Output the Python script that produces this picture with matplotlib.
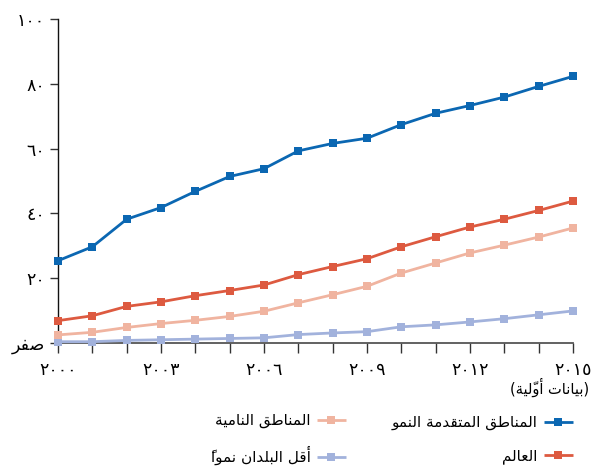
import matplotlib
matplotlib.use("Agg")
import matplotlib.pyplot as plt

plt.rcParams['font.family'] = ['DejaVu Sans']

# ---- data -------------------------------------------------------------
years = [2000, 2001, 2002, 2003, 2004, 2005, 2006, 2007,
         2008, 2009, 2010, 2011, 2012, 2013, 2014, 2015]
developed = [25.4, 29.7, 38.2, 41.8, 46.8, 51.4, 53.8, 59.3,
             61.6, 63.2, 67.4, 70.9, 73.3, 75.9, 79.2, 82.3]
world = [6.9, 8.4, 11.3, 12.7, 14.6, 16.2, 17.9, 21.1,
         23.6, 26.0, 29.7, 32.8, 35.8, 38.2, 40.9, 43.8]
developing = [2.5, 3.3, 4.8, 6.0, 7.0, 8.2, 9.8, 12.4,
              14.9, 17.5, 21.6, 24.7, 27.8, 30.2, 32.7, 35.5]
least_developed = [0.4, 0.4, 0.8, 1.0, 1.2, 1.4, 1.6, 2.6,
                   3.1, 3.5, 5.0, 5.6, 6.5, 7.5, 8.7, 9.9]

series_names = ["المناطق المتقدمة النمو", "العالم",
                "المناطق النامية", "أقل البلدان نمواً"]
y_ticks = [0, 20, 40, 60, 80, 100]
y_tick_labels = ["صفر", "٢٠", "٤٠", "٦٠", "٨٠", "١٠٠"]
x_labelled = [2000, 2003, 2006, 2009, 2012, 2015]
x_tick_labels = ["٢٠٠٠", "٢٠٠٣", "٢٠٠٦", "٢٠٠٩", "٢٠١٢", "٢٠١٥"]
note = "بيانات أوّلية"

# ---- minimal Arabic shaping (presentation forms + visual order) -------
FORMS = {  # isolated, final, initial, medial
    '\u0627': ('\ufe8d', '\ufe8e', None, None),
    '\u0623': ('\ufe83', '\ufe84', None, None),
    '\u0628': ('\ufe8f', '\ufe90', '\ufe91', '\ufe92'),
    '\u0629': ('\ufe93', '\ufe94', None, None),
    '\u062a': ('\ufe95', '\ufe96', '\ufe97', '\ufe98'),
    '\u062f': ('\ufea9', '\ufeaa', None, None),
    '\u0631': ('\ufead', '\ufeae', None, None),
    '\u0635': ('\ufeb9', '\ufeba', '\ufebb', '\ufebc'),
    '\u0637': ('\ufec1', '\ufec2', '\ufec3', '\ufec4'),
    '\u0639': ('\ufec9', '\ufeca', '\ufecb', '\ufecc'),
    '\u0641': ('\ufed1', '\ufed2', '\ufed3', '\ufed4'),
    '\u0642': ('\ufed5', '\ufed6', '\ufed7', '\ufed8'),
    '\u0644': ('\ufedd', '\ufede', '\ufedf', '\ufee0'),
    '\u0645': ('\ufee1', '\ufee2', '\ufee3', '\ufee4'),
    '\u0646': ('\ufee5', '\ufee6', '\ufee7', '\ufee8'),
    '\u0647': ('\ufee9', '\ufeea', '\ufeeb', '\ufeec'),
    '\u0648': ('\ufeed', '\ufeee', None, None),
    '\u064a': ('\ufef1', '\ufef2', '\ufef3', '\ufef4'),
}
LAM_ALEF = {'\u0627': ('\ufefb', '\ufefc'), '\u0623': ('\ufef7', '\ufef8')}
MARKS = set('\u064b\u064c\u064d\u064e\u064f\u0650\u0651\u0652')


def shape(text):
    """Return Arabic text as joined presentation forms in visual order."""
    if all(c.isdigit() for c in text):
        return text
    clusters = []
    for ch in text:
        if ch in MARKS and clusters:
            clusters[-1][1] += ch
        else:
            clusters.append([ch, ''])
    merged = []
    i = 0
    while i < len(clusters):
        b, m = clusters[i]
        if b == '\u0644' and i + 1 < len(clusters) and clusters[i + 1][0] in LAM_ALEF:
            merged.append(['LA' + clusters[i + 1][0], m + clusters[i + 1][1]])
            i += 2
        else:
            merged.append([b, m])
            i += 1

    def joins_forward(b):
        if b.startswith('LA'):
            return False
        return b in FORMS and FORMS[b][2] is not None

    def is_letter(b):
        return b.startswith('LA') or b in FORMS

    out = []
    for k, (b, m) in enumerate(merged):
        prev_j = k > 0 and joins_forward(merged[k - 1][0]) and is_letter(b)
        next_j = (k + 1 < len(merged) and joins_forward(b)
                  and is_letter(merged[k + 1][0]))
        if b.startswith('LA'):
            g = LAM_ALEF[b[2]][1 if prev_j else 0]
        elif b in FORMS:
            iso, fin, ini, med = FORMS[b]
            if prev_j and next_j:
                g = med
            elif prev_j:
                g = fin
            elif next_j:
                g = ini
            else:
                g = iso
        else:
            g = b
        out.append(g + m)
    return ''.join(out)[::-1]


# ---- figure -----------------------------------------------------------
W, H = 594, 470
fig = plt.figure(figsize=(W / 100, H / 100), dpi=100)
ax = fig.add_axes([58 / W, 127 / H, (573 - 58) / W, (343 - 19) / H])

colors = ["#0b67b2", "#dd5a40", "#f0b4a0", "#a2b2dc"]
all_series = [developed, world, developing, least_developed]
handles = []
for vals, col, name, z in zip(all_series, colors, series_names, [6, 5, 4, 3]):
    h, = ax.plot(years, vals, color=col, lw=2.0, marker='s', markersize=6,
                 markeredgewidth=0, clip_on=False, zorder=z,
                 solid_capstyle='butt', label=shape(name))
    handles.append(h)

ax.set_xlim(2000, 2015)
ax.set_ylim(0, 100)

for s in ("top", "right"):
    ax.spines[s].set_visible(False)
ax.spines["left"].set_color("#111111")
ax.spines["left"].set_linewidth(1.0)
ax.spines["bottom"].set_color("#555555")
ax.spines["bottom"].set_linewidth(1.3)

ax.set_yticks(y_ticks)
ax.set_yticklabels([shape(t) for t in y_tick_labels], fontsize=12.5)
ax.set_xticks(years)
lab = dict(zip(x_labelled, x_tick_labels))
ax.set_xticklabels([lab.get(y, "") for y in years], fontsize=12.5)
ax.tick_params(axis='y', length=6, width=1, color="#333333", pad=3.5)
ax.tick_params(axis='x', length=7, width=1, color="#333333", pad=6)

ax.annotate("(" + shape(note) + ")", xy=(1, 0),
            xycoords='axes fraction',
            xytext=(16, -44), textcoords='offset pixels',
            ha='right', va='center', fontsize=10.5)

# legend: two right-to-left columns
kw = dict(frameon=False, markerfirst=False, fontsize=11, handlelength=1.9,
          handletextpad=0.4, labelspacing=1.15, borderaxespad=0,
          borderpad=0, bbox_transform=fig.transFigure, loc='upper right')
leg1 = ax.legend(handles=handles[:2], bbox_to_anchor=(573 / W, 1 - 415 / H), **kw)
ax.add_artist(leg1)
ax.legend(handles=handles[2:], bbox_to_anchor=(346 / W, 1 - 413 / H), **kw)

fig.savefig("out.png", dpi=100)
